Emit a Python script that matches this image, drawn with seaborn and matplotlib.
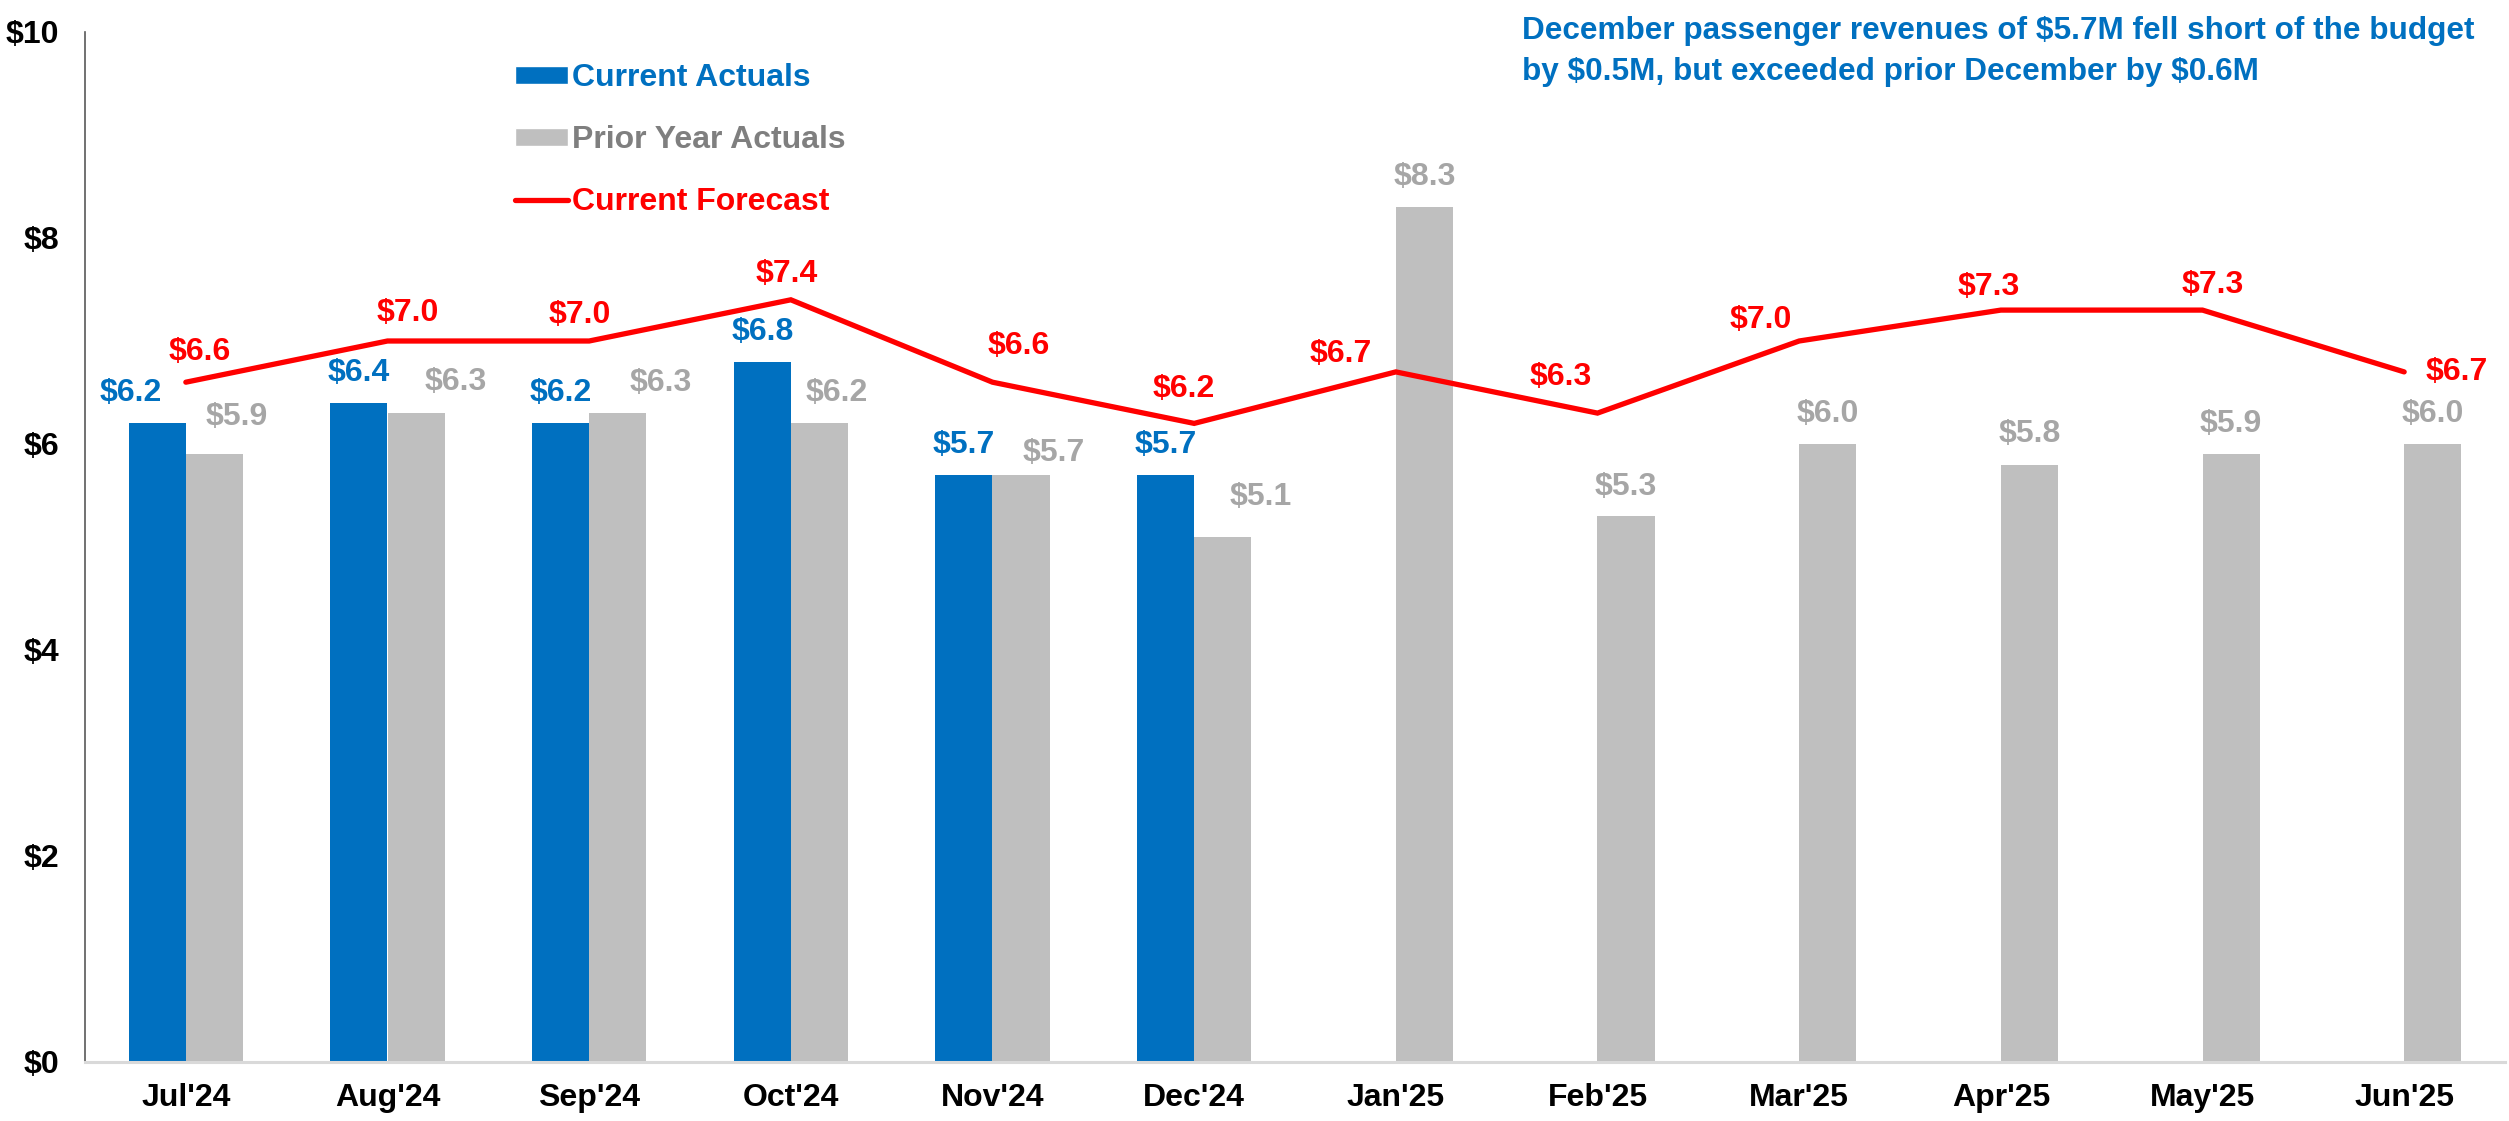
import numpy as np
import pandas as pd
import matplotlib
matplotlib.use('Agg')
import matplotlib.pyplot as plt
import seaborn as sns
from matplotlib.patches import Patch
from matplotlib.lines import Line2D

# Monthly passenger revenues ($M)
months = ["Jul'24", "Aug'24", "Sep'24", "Oct'24", "Nov'24", "Dec'24",
          "Jan'25", "Feb'25", "Mar'25", "Apr'25", "May'25", "Jun'25"]
current_actuals = [6.2, 6.4, 6.2, 6.8, 5.7, 5.7,
                   np.nan, np.nan, np.nan, np.nan, np.nan, np.nan]
prior_year_actuals = [5.9, 6.3, 6.3, 6.2, 5.7, 5.1, 8.3, 5.3, 6.0, 5.8, 5.9, 6.0]
current_forecast = [6.6, 7.0, 7.0, 7.4, 6.6, 6.2, 6.7, 6.3, 7.0, 7.3, 7.3, 6.7]
y_ticks = [0, 2, 4, 6, 8, 10]

note = ("December passenger revenues of $5.7M fell short of the budget\n"
        "by $0.5M, but exceeded prior December by $0.6M")

# Label nudges in pixels so the callouts don't collide
blue_dx = [-27, 0, 0, 0, 0, 0]
gray_dx = [22, 40, 43, 17, 33, 38, 0, 0, 0, 0, 0, 0]
gray_dy = [37, 31, 30, 30, 22, 40, 30, 29, 30, 31, 30, 30]
red_dx = [14, 20, -9, -4, 26, -10, -55, -37, -38, -12, 10, 53]
red_dy = [30, 28, 26, 26, 36, 34, 18, 36, 21, 23, 25, 0]

BLUE = '#0070C0'
GRAY = '#BFBFBF'
GRAY_TXT = '#A6A6A6'
RED = '#FF0000'

sns.set_style('white')
plt.rcParams['font.family'] = ['Liberation Sans', 'DejaVu Sans']
plt.rcParams['font.weight'] = 'bold'
plt.rcParams['text.parse_math'] = False

df = pd.DataFrame({
    'month': months * 2,
    'series': ['Current Actuals'] * len(months) + ['Prior Year Actuals'] * len(months),
    'value': current_actuals + prior_year_actuals,
})
df_line = pd.DataFrame({'month': months, 'forecast': current_forecast})

fig = plt.figure(figsize=(25.09, 11.21), dpi=100)
ax = fig.add_axes([85 / 2509, 1 - 1062 / 1121, 2420 / 2509, 1030 / 1121])

sns.barplot(data=df, x='month', y='value', hue='series', order=months,
            hue_order=['Current Actuals', 'Prior Year Actuals'],
            palette={'Current Actuals': BLUE, 'Prior Year Actuals': GRAY},
            saturation=1, width=0.566, errorbar=None, linewidth=0,
            legend=False, ax=ax)
sns.lineplot(data=df_line, x='month', y='forecast', sort=False, color=RED,
             linewidth=3.8, solid_capstyle='round', solid_joinstyle='miter',
             legend=False, ax=ax)

# data labels
blue_bars = ax.containers[0]
gray_bars = ax.containers[1]
k = 0
for bar in blue_bars:
    h = bar.get_height()
    if np.isnan(h) or h == 0:
        continue
    ax.annotate(f'${h:.1f}', (bar.get_x() + bar.get_width() / 2, h),
                xytext=(blue_dx[k], 30), textcoords='offset pixels',
                ha='center', va='center', color=BLUE, fontsize=23, fontweight='bold')
    k += 1
for i, bar in enumerate(gray_bars):
    h = bar.get_height()
    ax.annotate(f'${h:.1f}', (bar.get_x() + bar.get_width() / 2, h),
                xytext=(gray_dx[i], gray_dy[i]), textcoords='offset pixels',
                ha='center', va='center', color=GRAY_TXT, fontsize=23, fontweight='bold')
for i, v in enumerate(current_forecast):
    ax.annotate(f'${v:.1f}', (i, v), xytext=(red_dx[i], red_dy[i]),
                textcoords='offset pixels', ha='center', va='center',
                color=RED, fontsize=23, fontweight='bold')

ax.set_xlim(-0.5, len(months) - 0.5)
ax.set_ylim(0, 10)
ax.set_yticks(y_ticks)
ax.set_yticklabels([f'${t}' for t in y_ticks])
ax.set_xlabel('')
ax.set_ylabel('')
ax.tick_params(axis='y', length=0, pad=18.5, labelsize=23, labelcolor='black')
ax.tick_params(axis='x', length=0, pad=15, labelsize=23, labelcolor='black')
for lab in ax.get_xticklabels() + ax.get_yticklabels():
    lab.set_fontweight('bold')

sns.despine(ax=ax)
ax.spines['left'].set_color('#595959')
ax.spines['left'].set_linewidth(1.2)
ax.spines['bottom'].set_color('#D9D9D9')
ax.spines['bottom'].set_linewidth(2.2)
ax.patch.set_alpha(0)

handles = [Patch(facecolor=BLUE, label='Current Actuals'),
           Patch(facecolor=GRAY, label='Prior Year Actuals'),
           Line2D([], [], color=RED, linewidth=3.8, solid_capstyle='round',
                  label='Current Forecast')]
leg = ax.legend(handles=handles, loc='upper left',
                bbox_to_anchor=((515 - 85) / 2420, (1062 - 63) / 1030),
                frameon=False, fontsize=23, handlelength=1.65, handleheight=0.5,
                handletextpad=0.15, labelspacing=1.0, borderpad=0, borderaxespad=0)
for txt, c in zip(leg.get_texts(), [BLUE, '#7F7F7F', RED]):
    txt.set_color(c)
    txt.set_fontweight('bold')

fig.text(1522 / 2509, 1 - 16 / 1121, note, ha='left', va='top', color=BLUE,
         fontsize=22.7, fontweight='bold', linespacing=1.48)

fig.savefig('out.png', dpi=100, facecolor='white')
